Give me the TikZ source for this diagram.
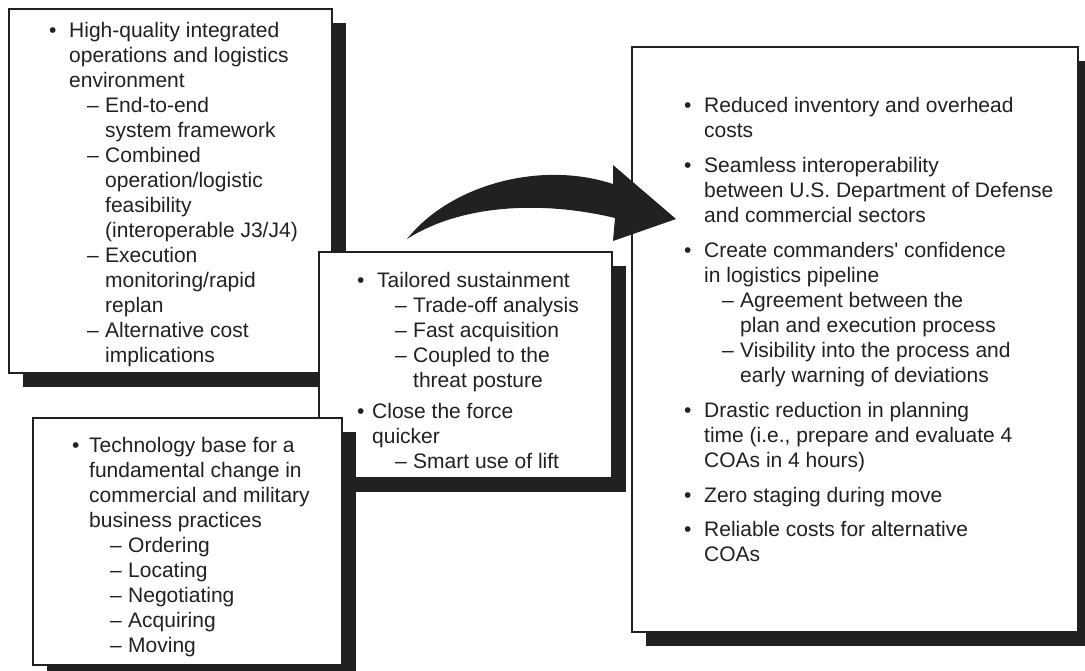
\documentclass[tikz,border=0pt]{standalone}
\usepackage{fontspec}
\setmainfont{Liberation Sans}
\usetikzlibrary{shadows}
\definecolor{ink}{gray}{0.13}
\newcommand\xB[2][20pt]{\makebox[#1][l]{\textbullet}#2}
\newcommand\xC[2][20pt]{\hspace*{#1}#2}
\newcommand\xS[1]{\hspace*{38pt}\makebox[18pt][l]{--}#1}
\newcommand\xT[1]{\hspace*{56pt}#1}
\begin{document}
\begin{tikzpicture}[x=1pt,y=-1pt,
  box/.style={draw=ink, line width=1.6pt, fill=white, inner sep=0pt,
    drop shadow={shadow xshift=14pt, shadow yshift=-14pt, fill=ink, opacity=1}},
  txt/.style={anchor=north west, align=left, inner sep=0pt, text=ink,
    font=\fontsize{21}{25}\selectfont}]
\useasboundingbox (0,0) rectangle (1085,670);
% box A
\node[box, minimum width=323pt, minimum height=364pt] (A) at (170.5,191) {};
\node[txt] (tA) at (49,17) {\rule{0pt}{20pt}\xB{High-quality integrated}\\
 \xC{operations and logistics}\\
 \xC{environment}\\
 \xS{End-to-end}\\
 \xT{system framework}\\
 \xS{Combined}\\
 \xT{operation/logistic}\\
 \xT{feasibility}\\
 \xT{(interoperable J3/J4)}\\
 \xS{Execution}\\
 \xT{monitoring/rapid}\\
 \xT{replan}\\
 \xS{Alternative cost}\\
 \xT{implications}};
% box B
\node[box, minimum width=293pt, minimum height=226pt] (B) at (465.5,365) {};
\node[txt] (tB) at (357,267) {\rule{0pt}{20pt}\xB{Tailored sustainment}\\
 \xS{Trade-off analysis}\\
 \xS{Fast acquisition}\\
 \xS{Coupled to the}\\
 \xT{threat posture}\\[6pt]
 \xB[15pt]{Close the force}\\
 \xC[15pt]{quicker}\\
 \xS{Smart use of lift}};
% box C
\node[box, minimum width=309pt, minimum height=247pt] (C) at (187.5,541.5) {};
\node[txt] (tC) at (72,432) {\rule{0pt}{20pt}\xB[17pt]{Technology base for a}\\
 \xC[17pt]{fundamental change in}\\
 \xC[17pt]{commercial and military}\\
 \xC[17pt]{business practices}\\
 \xS{Ordering}\\
 \xS{Locating}\\
 \xS{Negotiating}\\
 \xS{Acquiring}\\
 \xS{Moving}};
% box D
\node[box, minimum width=446pt, minimum height=585pt] (D) at (855,339.5) {};
\node[txt] (tD) at (684,92) {\rule{0pt}{20pt}\xB{Reduced inventory and overhead}\\
 \xC{costs}\\[10pt]
 \xB{Seamless interoperability}\\
 \xC{between U.S. Department of Defense}\\
 \xC{and commercial sectors}\\[10pt]
 \xB{Create commanders\textquotesingle\ confidence}\\
 \xC{in logistics pipeline}\\
 \xS{Agreement between the}\\
 \xT{plan and execution process}\\
 \xS{Visibility into the process and}\\
 \xT{early warning of deviations}\\[10pt]
 \xB{Drastic reduction in planning}\\
 \xC{time (i.e., prepare and evaluate 4}\\
 \xC{COAs in 4 hours)}\\[10pt]
 \xB{Zero staging during move}\\[9pt]
 \xB{Reliable costs for alternative}\\
 \xC{COAs}};
% curved arrow from B towards D
\coordinate (tail) at (407,239);
\coordinate (tip) at (676,219);
\fill[ink] (tail) .. controls (450,185) and (540,160) .. (613,184)
  -- (613,165) -- (tip) -- (613,241) -- (615,218)
  .. controls (540,200) and (460,205) .. (tail) -- cycle;
\end{tikzpicture}
\end{document}
